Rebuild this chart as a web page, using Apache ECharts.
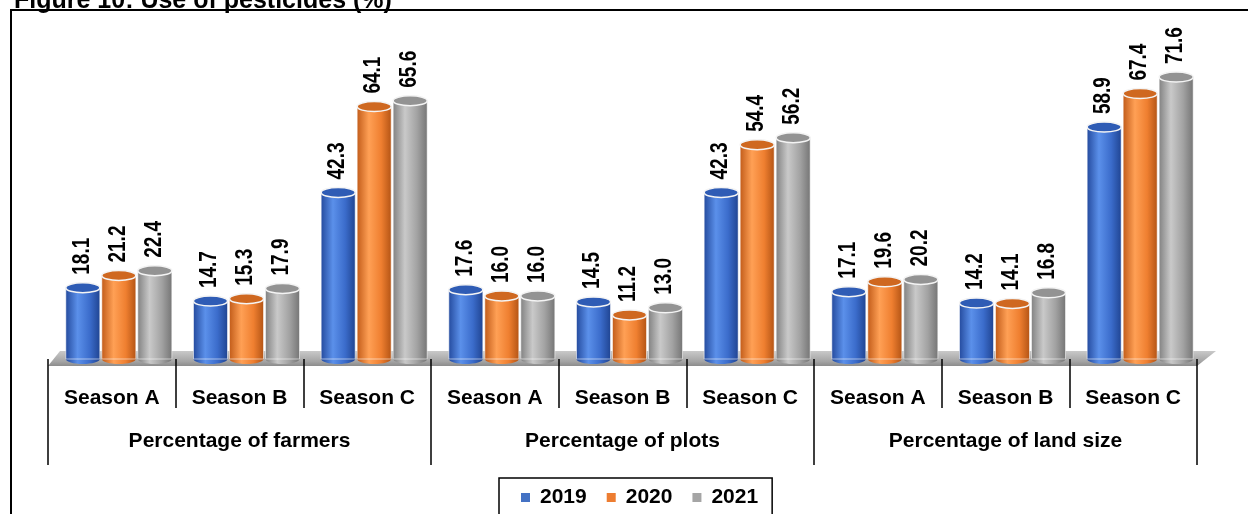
<!DOCTYPE html>
<html>
<head>
<meta charset="utf-8">
<script src="https://cdn.jsdelivr.net/npm/echarts@6/dist/echarts.min.js"></script>
<style>
  html, body { margin: 0; padding: 0; background: #fff; }
  #chart { width: 1248px; height: 514px; }
</style>
</head>
<body>
<div id="chart"></div>
<script>
const seasons = ['Season A', 'Season B', 'Season C', 'Season A', 'Season B', 'Season C', 'Season A', 'Season B', 'Season C']
const groups = ['Percentage of farmers', 'Percentage of plots', 'Percentage of land size']
const years = ['2019', '2020', '2021']
const v2019 = [18.1, 14.7, 42.3, 17.6, 14.5, 42.3, 17.1, 14.2, 58.9]
const v2020 = [21.2, 15.3, 64.1, 16.0, 11.2, 54.4, 19.6, 14.1, 67.4]
const v2021 = [22.4, 17.9, 65.6, 16.0, 13.0, 56.2, 20.2, 16.8, 71.6]

const FONT = '"Liberation Sans", Arial, sans-serif'
const BASE = ['#4472C4', '#ED7D31', '#A5A5A5']
// edge, highlight, mid, far edge, top cap
const SHADES = [
  ['#23499c', '#5b90ea', '#3b6ccb', '#1f4390', '#2f5cb5'],
  ['#c05a18', '#ffa055', '#ef7f30', '#b25314', '#cf6820'],
  ['#808080', '#c9c9c9', '#a2a2a2', '#747474', '#939393']
]
const BAR_W = 34
const GAP = 2
const SHIFT = 7
const RY = 5

function grad(s) {
  return new echarts.graphic.LinearGradient(0, 0, 1, 0, [
    { offset: 0, color: s[0] },
    { offset: 0.35, color: s[1] },
    { offset: 0.7, color: s[2] },
    { offset: 1, color: s[3] }
  ])
}

function makeRender(si) {
  return function (params, api) {
    const idx = api.value(0)
    const val = api.value(1)
    const base = api.coord([idx, 0])
    const top = api.coord([idx, val])
    const cx = base[0] + SHIFT + (si - 1) * (BAR_W + GAP)
    const x0 = cx - BAR_W / 2
    const s = SHADES[si]
    return {
      type: 'group',
      children: [
        { type: 'ellipse', shape: { cx: cx, cy: base[1], rx: BAR_W / 2, ry: RY }, style: { fill: grad(s) } },
        { type: 'rect', shape: { x: x0, y: top[1], width: BAR_W, height: base[1] - top[1] }, style: { fill: grad(s), stroke: 'rgba(255,255,255,0.55)', lineWidth: 1 } },
        { type: 'ellipse', shape: { cx: cx, cy: top[1], rx: BAR_W / 2, ry: RY }, style: { fill: s[4], stroke: '#f4f4f4', lineWidth: 1.5 } },
        {
          type: 'text', x: cx - 1, y: top[1] - 13, rotation: Math.PI / 2, scaleY: 1.3,
          style: { text: val.toFixed(1), font: 'bold 19px ' + FONT, fill: '#000', align: 'left', verticalAlign: 'middle' }
        }
      ]
    }
  }
}

const seriesVals = [v2019, v2020, v2021]
const series = years.map((y, si) => ({
  name: y,
  type: 'custom',
  xAxisIndex: 0,
  yAxisIndex: 0,
  itemStyle: { color: BASE[si] },
  renderItem: makeRender(si),
  encode: { x: 0, y: 1 },
  data: seriesVals[si].map((v, k) => [k, v]),
  z: 3
}))

const chart = echarts.init(document.getElementById('chart'))
chart.setOption({
  animation: false,
  color: BASE,
  title: {
    text: 'Figure 10: Use of pesticides (%)',
    left: 9, top: -16,
    textStyle: { fontFamily: FONT, fontSize: 25, fontWeight: 'bold', color: '#000' }
  },
  legend: {
    data: years,
    left: 499, top: 478,
    icon: 'rect', itemWidth: 9, itemHeight: 9, itemGap: 20,
    borderColor: '#000', borderWidth: 1.5,
    padding: [9, 14, 20, 22],
    textStyle: { fontFamily: FONT, fontSize: 21, fontWeight: 'bold', color: '#000', padding: [0, 0, 0, 5] }
  },
  grid: { left: 48, right: 51, top: 44, bottom: 155 },
  xAxis: [
    {
      type: 'category', data: seasons, position: 'bottom', offset: 7,
      axisLine: { show: false },
      axisTick: { show: true, length: 49, interval: 0, lineStyle: { color: '#000', width: 1.5 } },
      axisLabel: { interval: 0, margin: 22, fontFamily: FONT, fontSize: 21, fontWeight: 'bold', color: '#000' }
    },
    {
      type: 'category', data: groups, position: 'bottom', offset: 7,
      axisLine: { show: false },
      axisTick: { show: true, length: 99, interval: 0, lineStyle: { color: '#000', width: 1.5 } },
      axisLabel: { interval: 0, margin: 65, fontFamily: FONT, fontSize: 21, fontWeight: 'bold', color: '#000' }
    }
  ],
  yAxis: { type: 'value', min: 0, max: 80, show: false, splitLine: { show: false } },
  graphic: [
    {
      type: 'polygon', z: 0,
      shape: { points: [[48, 366], [1197, 366], [1216, 351], [60, 351]] },
      style: {
        fill: new echarts.graphic.LinearGradient(0, 0, 0, 1, [
          { offset: 0, color: '#c9c9c9' },
          { offset: 0.7, color: '#a4a4a4' },
          { offset: 1, color: '#8c8c8c' }
        ])
      }
    },
    {
      type: 'rect', z: 10,
      shape: { x: 11, y: 10, width: 1400, height: 700 },
      style: { fill: 'none', stroke: '#000', lineWidth: 2 }
    }
  ],
  series: series
})
</script>
</body>
</html>
